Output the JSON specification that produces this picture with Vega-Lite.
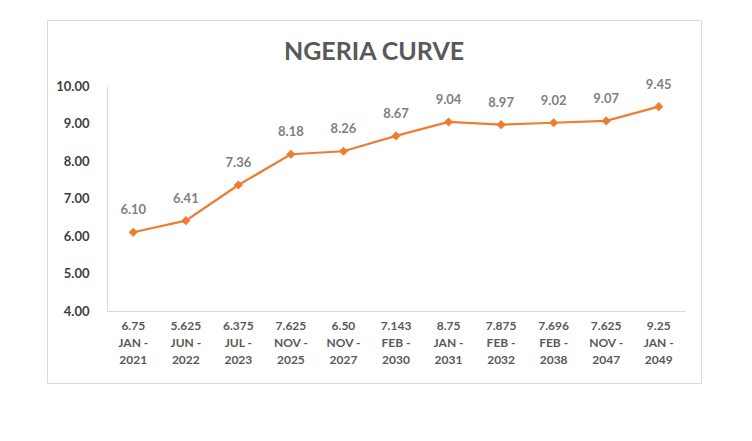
{
  "$schema": "https://vega.github.io/schema/vega-lite/v6.json",
  "width": 654,
  "height": 363,
  "autosize": {"type": "none"},
  "padding": {"left": 47, "top": 20, "right": 51, "bottom": 58},
  "background": "#ffffff",
  "title": {
    "text": "NGERIA CURVE",
    "font": "Lato",
    "fontSize": 25,
    "fontWeight": "bold",
    "color": "#595959",
    "anchor": "middle",
    "baseline": "middle",
    "offset": -57
  },
  "data": {
    "values": [
      {"bond": "6.75|JAN -|2021", "yield": 6.10},
      {"bond": "5.625|JUN -|2022", "yield": 6.41},
      {"bond": "6.375|JUL -|2023", "yield": 7.36},
      {"bond": "7.625|NOV -|2025", "yield": 8.18},
      {"bond": "6.50|NOV -|2027", "yield": 8.26},
      {"bond": "7.143|FEB -|2030", "yield": 8.67},
      {"bond": "8.75|JAN -|2031", "yield": 9.04},
      {"bond": "7.875|FEB -|2032", "yield": 8.97},
      {"bond": "7.696|FEB -|2038", "yield": 9.02},
      {"bond": "7.625|NOV -|2047", "yield": 9.07},
      {"bond": "9.25|JAN -|2049", "yield": 9.45}
    ]
  },
  "encoding": {
    "x": {
      "field": "bond",
      "type": "nominal",
      "sort": null,
      "title": null,
      "scale": {"type": "band", "range": [60, 638], "paddingInner": 0, "paddingOuter": 0},
      "axis": {
        "orient": "bottom",
        "offset": -72,
        "labelAngle": 0,
        "labelExpr": "split(datum.value, '|')",
        "labelFont": "Lato",
        "labelFontSize": 12,
        "labelFontWeight": "bold",
        "labelColor": "#595959",
        "labelLineHeight": 17,
        "labelPadding": 9,
        "labelBaseline": "top",
        "ticks": false,
        "grid": false,
        "domainColor": "#d9d9d9",
        "domainWidth": 1
      }
    },
    "y": {
      "field": "yield",
      "type": "quantitative",
      "title": null,
      "scale": {"domain": [4, 10], "range": [291, 66], "nice": false, "zero": false},
      "axis": {
        "orient": "left",
        "offset": -60,
        "values": [4, 5, 6, 7, 8, 9, 10],
        "format": ".2f",
        "labelFont": "Lato",
        "labelFontSize": 13,
        "labelFontWeight": "bold",
        "labelColor": "#404040",
        "labelPadding": 18,
        "ticks": false,
        "grid": false,
        "domainColor": "#d9d9d9",
        "domainWidth": 1
      }
    }
  },
  "layer": [
    {
      "mark": {"type": "line", "color": "#ED7D31", "strokeWidth": 2.25}
    },
    {
      "mark": {"type": "point", "shape": "diamond", "filled": true, "color": "#ED7D31", "size": 85, "opacity": 1}
    },
    {
      "mark": {"type": "text", "font": "Lato", "fontSize": 13, "fontWeight": "bold", "color": "#7f7f7f", "dy": -22, "baseline": "middle"},
      "encoding": {
        "text": {"field": "yield", "type": "quantitative", "format": ".2f"}
      }
    }
  ],
  "config": {
    "view": {"stroke": "#d9d9d9", "strokeWidth": 1}
  }
}
